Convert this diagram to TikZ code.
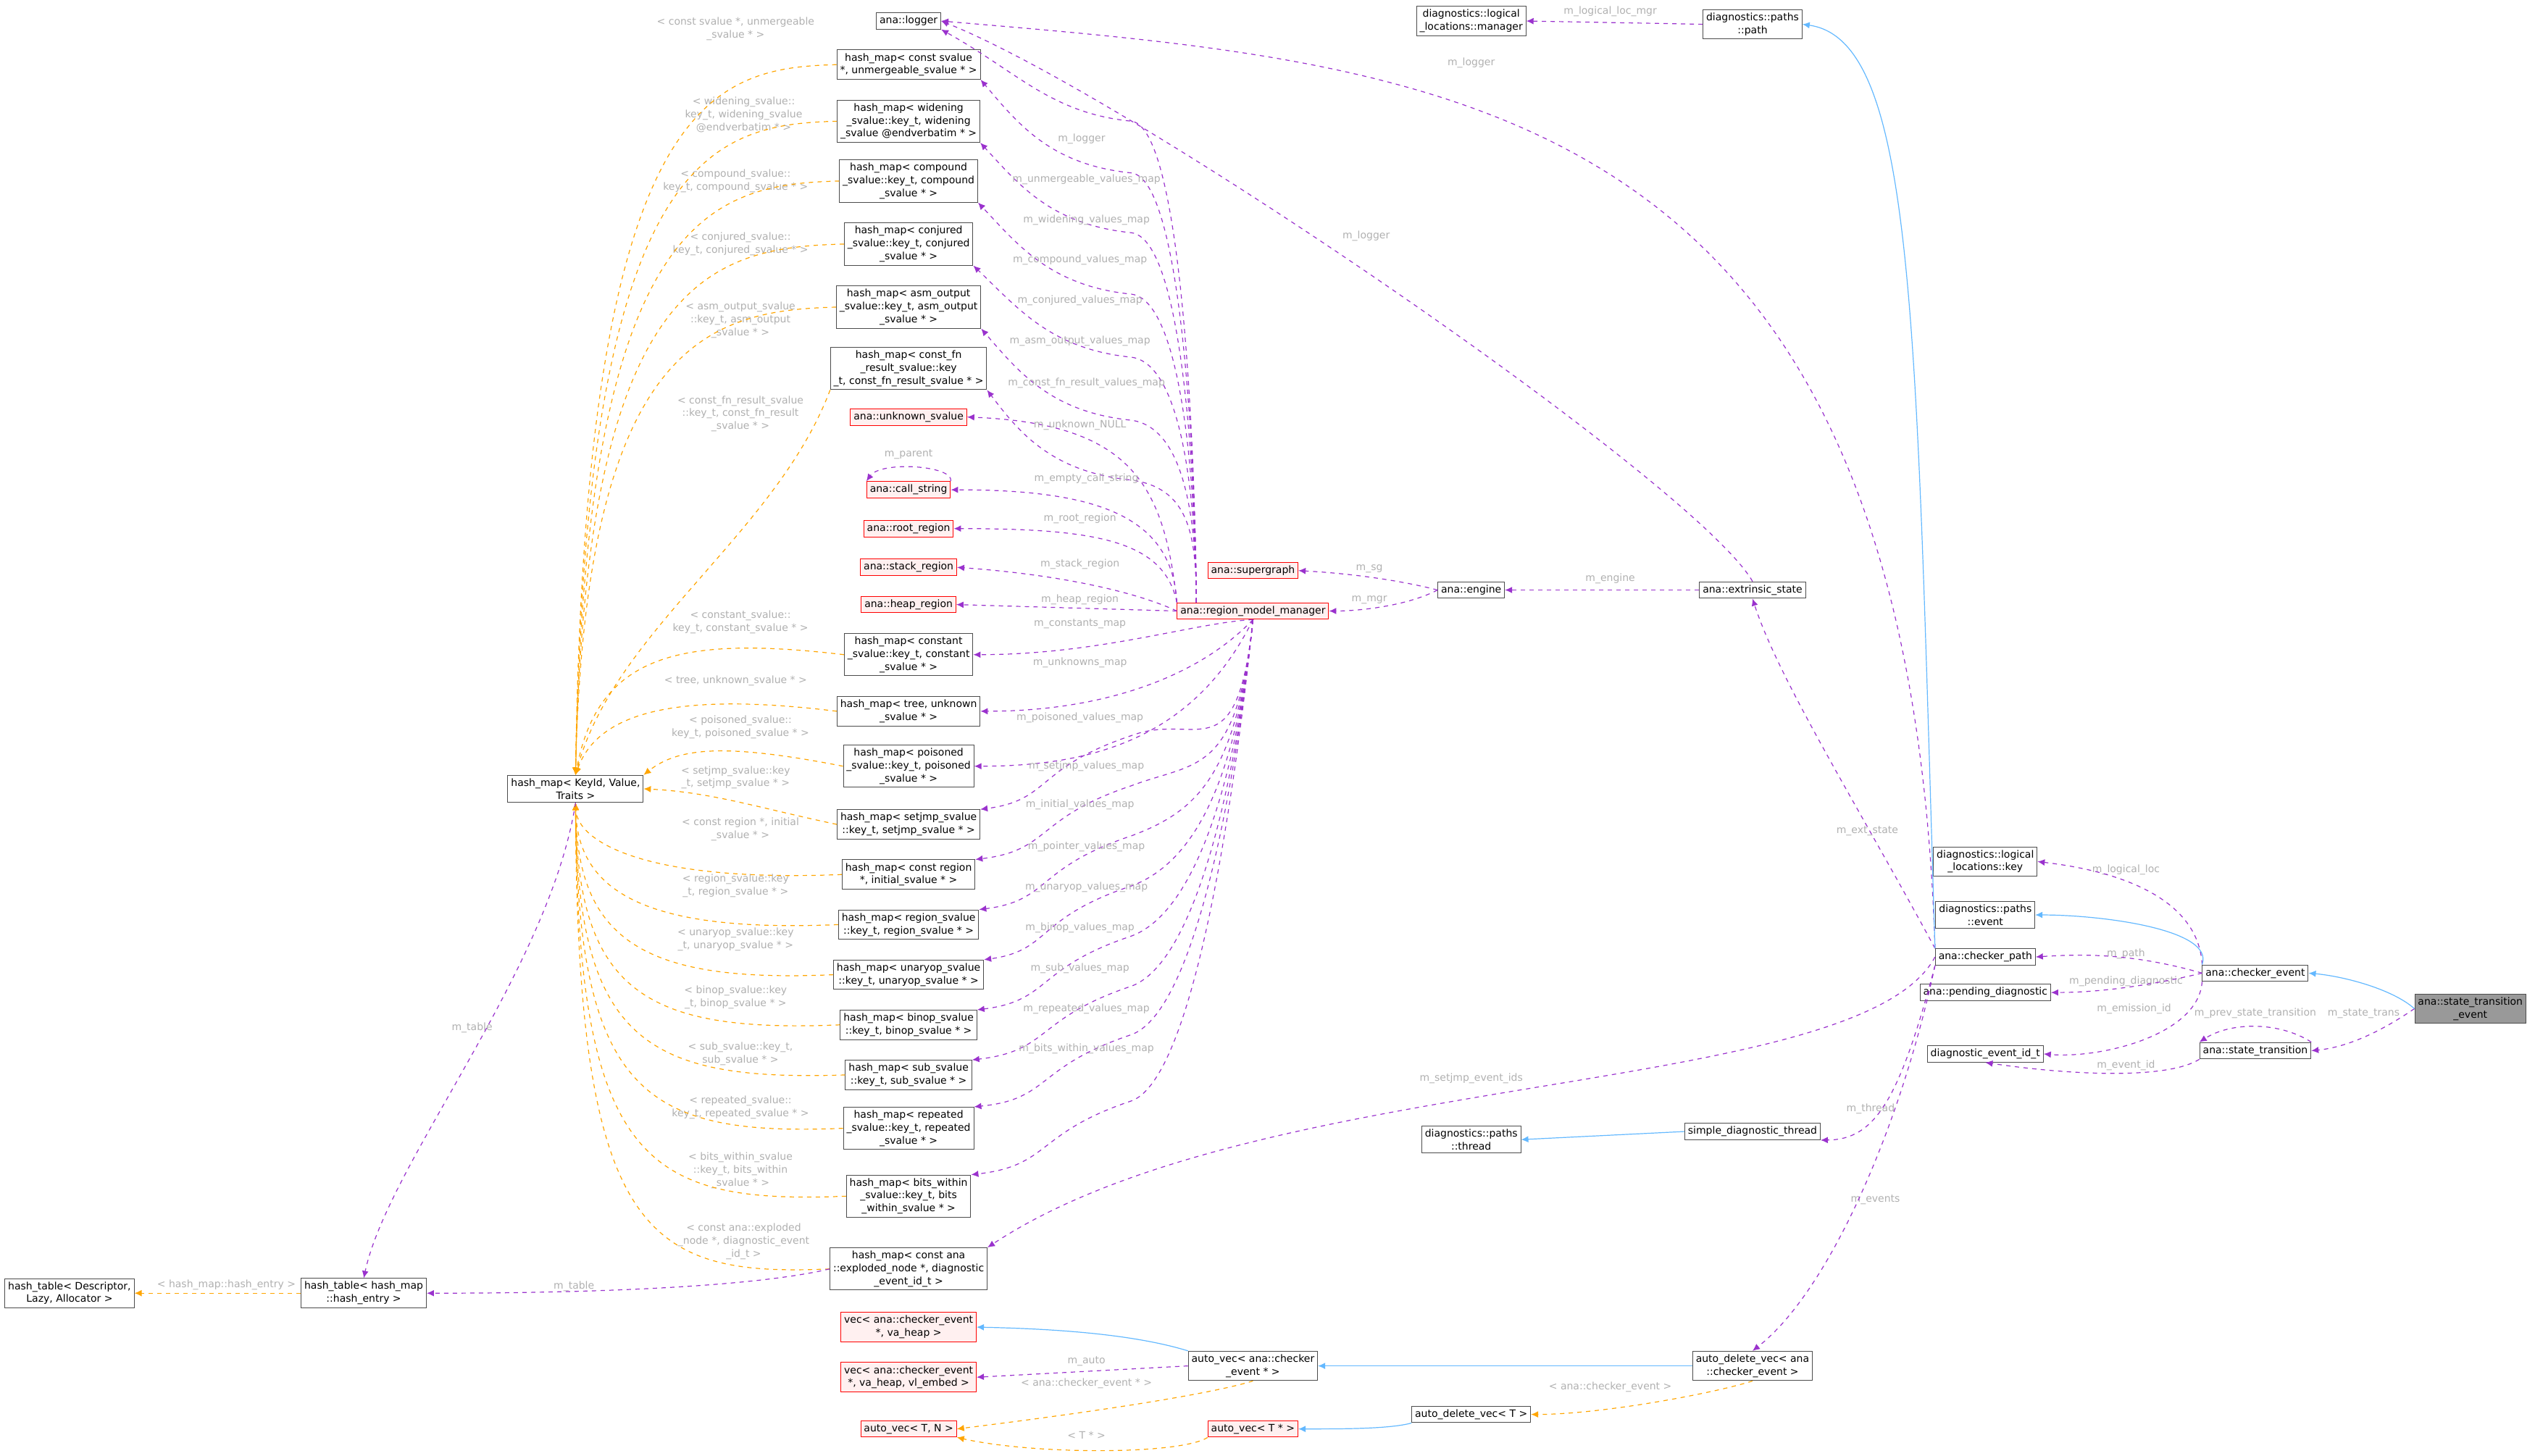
\documentclass[tikz,border=0pt]{standalone}
\usepackage{fontspec}
\setmainfont{DejaVu Sans}
\usetikzlibrary{arrows.meta}
\definecolor{pur}{HTML}{9A32CD}
\definecolor{org}{HTML}{FFA500}
\definecolor{blu}{HTML}{63B8FF}
\definecolor{lbl}{HTML}{B0B0B0}
\begin{document}
\begin{tikzpicture}[x=1.11575pt,y=-1.11575pt,
 font=\fontsize{7}{8.9}\selectfont,
 box/.style={draw=black!70,fill=white,line width=0.5pt,align=center,inner sep=2.2pt},
 rbox/.style={box,draw=red,fill=red!6},
 gbox/.style={box,fill=black!40},
 pe/.style={draw=pur,dashed,line width=0.6pt,-{Latex[length=5pt,width=4.5pt]}},
 oe/.style={draw=org,dashed,line width=0.6pt,-{Latex[length=5pt,width=4.5pt]}},
 be/.style={draw=blu,line width=0.6pt,-{Latex[length=5pt,width=4.5pt]}},
 lb/.style={text=lbl,align=center,inner sep=0pt}]
\useasboundingbox (0,0) rectangle (1568,900.7);
% left column
\node[box] (logger) at (562,13) {ana::logger};
\node[box] (hunm) at (562,40) {hash\_map< const svalue\\ *, unmergeable\_svalue * >};
\node[box] (hwid) at (562,75) {hash\_map< widening\\\_svalue::key\_t, widening\\\_svalue @endverbatim * >};
\node[box] (hcmp) at (562,112) {hash\_map< compound\\\_svalue::key\_t, compound\\\_svalue * >};
\node[box] (hcnj) at (562,151) {hash\_map< conjured\\\_svalue::key\_t, conjured\\\_svalue * >};
\node[box] (hasm) at (562,190) {hash\_map< asm\_output\\\_svalue::key\_t, asm\_output\\\_svalue * >};
\node[box] (hcfn) at (562,228) {hash\_map< const\_fn\\\_result\_svalue::key\\\_t, const\_fn\_result\_svalue * >};
\node[rbox] (unk) at (562,258) {ana::unknown\_svalue};
\node[rbox] (cs) at (562,303) {ana::call\_string};
\node[rbox] (root) at (562,327) {ana::root\_region};
\node[rbox] (stack) at (562,351) {ana::stack\_region};
\node[rbox] (heap) at (562,374) {ana::heap\_region};
\node[box] (hcst) at (562,405) {hash\_map< constant\\\_svalue::key\_t, constant\\\_svalue * >};
\node[box] (htree) at (562,440) {hash\_map< tree, unknown\\\_svalue * >};
\node[box] (hpoi) at (562,474) {hash\_map< poisoned\\\_svalue::key\_t, poisoned\\\_svalue * >};
\node[box] (hset) at (562,510) {hash\_map< setjmp\_svalue\\::key\_t, setjmp\_svalue * >};
\node[box] (hcr) at (562,541) {hash\_map< const region\\ *, initial\_svalue * >};
\node[box] (hreg) at (562,572) {hash\_map< region\_svalue\\::key\_t, region\_svalue * >};
\node[box] (huna) at (562,603) {hash\_map< unaryop\_svalue\\::key\_t, unaryop\_svalue * >};
\node[box] (hbin) at (562,634) {hash\_map< binop\_svalue\\::key\_t, binop\_svalue * >};
\node[box] (hsub) at (562,665) {hash\_map< sub\_svalue\\::key\_t, sub\_svalue * >};
\node[box] (hrep) at (562,698) {hash\_map< repeated\\\_svalue::key\_t, repeated\\\_svalue * >};
\node[box] (hbw) at (562,740) {hash\_map< bits\_within\\\_svalue::key\_t, bits\\\_within\_svalue * >};
\node[box] (hexp) at (562,785) {hash\_map< const ana\\::exploded\_node *, diagnostic\\\_event\_id\_t >};
\node[rbox] (vec1) at (562,821) {vec< ana::checker\_event\\ *, va\_heap >};
\node[rbox] (vec2) at (562,852) {vec< ana::checker\_event\\ *, va\_heap, vl\_embed >};
\node[rbox] (avtn) at (562,884) {auto\_vec< T, N >};
\node[box] (kv) at (356,488) {hash\_map< KeyId, Value,\\ Traits >};
\node[box] (hte) at (225,800) {hash\_table< hash\_map\\::hash\_entry >};
\node[box] (ht) at (43,800) {hash\_table< Descriptor,\\ Lazy, Allocator >};
% middle
\node[rbox] (rmm) at (775,378) {ana::region\_model\_manager};
\node[rbox] (sg) at (775,353) {ana::supergraph};
\node[box] (eng) at (910,365) {ana::engine};
\node[box] (ext) at (1084,365) {ana::extrinsic\_state};
\node[box] (llm) at (910,13) {diagnostics::logical\\\_locations::manager};
\node[box] (dpp) at (1084,15) {diagnostics::paths\\::path};
\node[box] (llk) at (1228,533) {diagnostics::logical\\\_locations::key};
\node[box] (dpe) at (1228,566) {diagnostics::paths\\::event};
\node[box] (cp) at (1228,592) {ana::checker\_path};
\node[box] (pd) at (1228,614) {ana::pending\_diagnostic};
\node[box] (deid) at (1228,652) {diagnostic\_event\_id\_t};
\node[box] (ce) at (1395,602) {ana::checker\_event};
\node[box] (st) at (1395,650) {ana::state\_transition};
\node[gbox] (ste) at (1528,624) {ana::state\_transition\\\_event};
\node[box] (dpt) at (910,705) {diagnostics::paths\\::thread};
\node[box] (sdt) at (1084,700) {simple\_diagnostic\_thread};
\node[box] (avc) at (775,845) {auto\_vec< ana::checker\\\_event * >};
\node[box] (adva) at (1084,845) {auto\_delete\_vec< ana\\::checker\_event >};
\node[box] (advt) at (910,875) {auto\_delete\_vec< T >};
\node[rbox] (avtp) at (775,884) {auto\_vec< T * >};

% purple from rmm upward
\foreach \t/\yy in {logger/20,hunm/52,hwid/89,hcmp/127,hcnj/166,hasm/205,hcfn/242}{
  \draw[pe] (rmm.north west) ++(12,0) .. controls (740,330) and (735,\yy+60) .. (700,\yy+55) .. controls (650,\yy+50) and (630,\yy+25) .. (\t.south east);
}
\draw[pe] (rmm.north west) .. controls (720,300) and (700,262) .. (unk.east);
\draw[pe] (rmm.north west) .. controls (725,320) and (680,303) .. (cs.east);
\draw[pe] (rmm.north west) .. controls (720,335) and (680,327) .. (root.east);
\draw[pe] (rmm.west) .. controls (700,365) and (650,355) .. (stack.east);
\draw[pe] (rmm.west) -- (heap.east);
\draw[pe] (cs.north east) .. controls (590,288) and (545,285) .. (cs.north west);
% purple from rmm downward
\foreach \t/\yy in {hcst/405,htree/440,hpoi/474}{
  \draw[pe] (rmm.south) .. controls (740,\yy-20) and (680,\yy) .. (\t.east);
}
\foreach \t/\yy in {hset/500,hcr/531,hreg/562,huna/593,hbin/624,hsub/655,hrep/685,hbw/726}{
  \draw[pe] (rmm.south) .. controls (765,480) and (740,\yy-60) .. (700,\yy-45) .. controls (640,\yy-25) and (650,\yy-5) .. (\t.north east);
}
% labels
\foreach \tx/\px/\py in {m\_logger/669/86, m\_unmergeable\_values\_map/672/111, m\_widening\_values\_map/672/136, m\_compound\_values\_map/668/161, m\_conjured\_values\_map/668/186, m\_asm\_output\_values\_map/668/211, m\_const\_fn\_result\_values\_map/672/237, m\_unknown\_NULL/668/263, m\_empty\_call\_string/672/296, m\_root\_region/668/321, m\_stack\_region/668/349, m\_heap\_region/668/371, m\_constants\_map/668/386, m\_unknowns\_map/668/410, m\_poisoned\_values\_map/668/444, m\_setjmp\_values\_map/672/474, m\_initial\_values\_map/668/498, m\_pointer\_values\_map/672/524, m\_unaryop\_values\_map/672/549, m\_binop\_values\_map/668/574, m\_sub\_values\_map/668/599, m\_repeated\_values\_map/672/624, m\_bits\_within\_values\_map/672/649, m\_parent/562/281, m\_sg/847/352, m\_mgr/847/371, m\_engine/996/358, m\_logger/845/146, m\_logger/910/39, m\_logical\_loc\_mgr/996/7, m\_ext\_state/1155/514, m\_setjmp\_event\_ids/910/667, m\_thread/1157/686, m\_events/1160/742, m\_logical\_loc/1315/538, m\_path/1315/590, m\_pending\_diagnostic/1315/607, m\_emission\_id/1320/624, m\_event\_id/1315/659, m\_prev\_state\_transition/1395/627, m\_state\_trans/1462/627, m\_table/292/636, m\_table/355/796, m\_auto/672/842}{
  \node[lb] at (\px,\py) {\tx};
}
\node[lb] at (140,795) {< hash\_map::hash\_entry >};
\node[lb] at (672,856) {< ana::checker\_event * >};
\node[lb] at (672,888) {< T * >};
\node[lb] at (996,858) {< ana::checker\_event >};
\node[lb] at (455,18) {< const svalue *, unmergeable\\\_svalue * >};
\node[lb] at (460,71) {< widening\_svalue::\\key\_t, widening\_svalue\\@endverbatim * >};
\node[lb] at (455,112) {< compound\_svalue::\\key\_t, compound\_svalue * >};
\node[lb] at (458,151) {< conjured\_svalue::\\key\_t, conjured\_svalue * >};
\node[lb] at (458,198) {< asm\_output\_svalue\\::key\_t, asm\_output\\\_svalue * >};
\node[lb] at (458,256) {< const\_fn\_result\_svalue\\::key\_t, const\_fn\_result\\\_svalue * >};
\node[lb] at (458,385) {< constant\_svalue::\\key\_t, constant\_svalue * >};
\node[lb] at (455,421) {< tree, unknown\_svalue * >};
\node[lb] at (458,450) {< poisoned\_svalue::\\key\_t, poisoned\_svalue * >};
\node[lb] at (455,481) {< setjmp\_svalue::key\\\_t, setjmp\_svalue * >};
\node[lb] at (458,513) {< const region *, initial\\\_svalue * >};
\node[lb] at (455,548) {< region\_svalue::key\\\_t, region\_svalue * >};
\node[lb] at (455,581) {< unaryop\_svalue::key\\\_t, unaryop\_svalue * >};
\node[lb] at (455,617) {< binop\_svalue::key\\\_t, binop\_svalue * >};
\node[lb] at (458,652) {< sub\_svalue::key\_t,\\sub\_svalue * >};
\node[lb] at (458,685) {< repeated\_svalue::\\key\_t, repeated\_svalue * >};
\node[lb] at (458,724) {< bits\_within\_svalue\\::key\_t, bits\_within\\\_svalue * >};
\node[lb] at (460,768) {< const ana::exploded\\\_node *, diagnostic\_event\\\_id\_t >};
% orange to kv
\foreach \t/\yy in {hunm/40,hwid/75,hcmp/112,hcnj/151,hasm/190}{
  \draw[oe] (\t.west) .. controls (440,\yy+2) and (362,\yy+20) .. (kv.north);
}
\foreach \t/\yy in {hcst/405,htree/440}{
  \draw[oe] (\t.west) .. controls (420,\yy-12) and (370,\yy) .. (kv.north);
}
\draw[oe] (hcfn.south west) .. controls (480,330) and (380,390) .. (kv.north);
\draw[oe] (hpoi.west) .. controls (450,460) and (420,462) .. (kv.north east);
\draw[oe] (hset.west) .. controls (470,500) and (440,490) .. (kv.east);
\foreach \t/\yy in {hcr/541,hreg/572,huna/603,hbin/634,hsub/664,hrep/698,hbw/740,hexp/785}{
  \draw[oe] (\t.west) .. controls (400,\yy+5) and (357,\yy-20) .. (kv.south);
}
\draw[oe] (hte.west) -- (ht.east);
\draw[oe] (avc.south) .. controls (740,865) and (640,878) .. (avtn.east);
\draw[oe] (avtp.south west) .. controls (730,900) and (640,900) .. (avtn.south east);
\draw[oe] (adva.south) .. controls (1060,862) and (990,875) .. (advt.east);
% purple misc
\draw[pe] (kv.south) .. controls (340,600) and (240,720) .. (hte.north);
\draw[pe] (hexp.west) .. controls (450,800) and (300,800) .. (hte.east);
\draw[pe] (eng.west) .. controls (870,360) and (840,355) .. (sg.east);
\draw[pe] (eng.west) .. controls (870,375) and (840,378) .. (rmm.east);
\draw[pe] (ext.west) -- (eng.east);
\draw[pe] (ext.north) .. controls (1050,300) and (700,60) .. (logger.east);
\draw[pe] (cp.north west) .. controls (1180,60) and (900,40) .. (logger.east);
\draw[pe] (cp.north west) .. controls (1150,500) and (1100,420) .. (ext.south);
\draw[pe] (cp.west) .. controls (1150,680) and (780,660) .. (hexp.north east);
\draw[pe] (cp.south west) .. controls (1175,680) and (1160,705) .. (sdt.south east);
\draw[pe] (cp.south west) .. controls (1175,700) and (1130,800) .. (adva.north);
\draw[pe] (dpp.west) -- (llm.east);
\draw[pe] (ce.north west) .. controls (1360,560) and (1320,540) .. (llk.east);
\draw[pe] (ce.west) .. controls (1320,590) and (1290,590) .. (cp.east);
\draw[pe] (ce.west) .. controls (1320,612) and (1290,614) .. (pd.east);
\draw[pe] (ce.south west) .. controls (1360,640) and (1300,655) .. (deid.east);
\draw[pe] (st.south west) .. controls (1340,668) and (1280,665) .. (deid.south);
\draw[pe] (st.north east) .. controls (1410,632) and (1380,632) .. (st.north west);
\draw[pe] (ste.west) .. controls (1470,640) and (1450,648) .. (st.east);
\draw[pe] (avc.west) -- (vec2.east);
% blue inheritance
\draw[be] (avc.north west) .. controls (700,825) and (650,822) .. (vec1.east);
\draw[be] (adva.west) -- (avc.east);
\draw[be] (advt.south west) .. controls (860,884) and (830,884) .. (avtp.east);
\draw[be] (sdt.west) -- (dpt.east);
\draw[be] (cp.north west) .. controls (1185,200) and (1185,25) .. (dpp.east);
\draw[be] (ce.north west) .. controls (1370,575) and (1300,566) .. (dpe.east);
\draw[be] (ste.west) .. controls (1480,612) and (1450,604) .. (ce.east);
\end{tikzpicture}
\end{document}
